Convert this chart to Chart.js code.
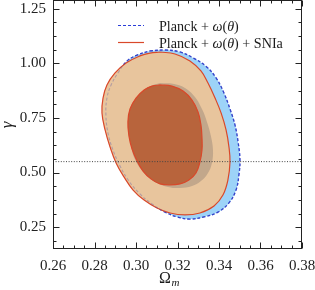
<!DOCTYPE html>
<html>
<head>
<meta charset="utf-8">
<script src="https://cdn.jsdelivr.net/npm/chart.js@4/dist/chart.umd.min.js"></script>
<style>html,body{margin:0;padding:0;background:#fff}canvas{display:block}</style>
</head>
<body>
<canvas id="c" width="315" height="290"></canvas>
<script>
// ---- data ----
const seriesLabels = ['Planck + ω(θ)', 'Planck + ω(θ) + SNIa'];

// Planck + ω(θ): 2σ contour
const blue2X = [0.3067,0.3140,0.3212,0.3275,0.3337,0.3386,0.3424,0.3453,0.3477,0.3492,0.3501,0.3496,0.3482,0.3448,0.3395,0.3328,0.3260,0.3198,0.3140,0.3077,0.3019,0.2966,0.2923,0.2889,0.2865,0.2855,0.2860,0.2880,0.2913,0.2957,0.3005];
const blue2Y = [1.057,1.061,1.052,1.025,0.987,0.933,0.864,0.791,0.718,0.640,0.558,0.489,0.420,0.361,0.319,0.297,0.287,0.297,0.319,0.356,0.402,0.461,0.530,0.603,0.681,0.764,0.841,0.901,0.956,1.011,1.038];
// Planck + ω(θ): 1σ contour
const blue1X = [0.3116,0.3178,0.3236,0.3284,0.3318,0.3342,0.3361,0.3371,0.3366,0.3347,0.3313,0.3270,0.3212,0.3154,0.3101,0.3058,0.3019,0.2990,0.2976,0.2971,0.2971,0.2986,0.3014,0.3053,0.3082];
const blue1Y = [0.910,0.906,0.887,0.846,0.791,0.732,0.667,0.603,0.544,0.498,0.461,0.438,0.429,0.434,0.452,0.480,0.521,0.571,0.626,0.686,0.745,0.800,0.851,0.887,0.901];
// Planck + ω(θ) + SNIa: 2σ contour
const red2X = [0.3116,0.3188,0.3260,0.3313,0.3347,0.3381,0.3410,0.3434,0.3448,0.3453,0.3443,0.3419,0.3376,0.3308,0.3236,0.3164,0.3101,0.3039,0.2986,0.2942,0.2904,0.2875,0.2851,0.2836,0.2841,0.2860,0.2899,0.2952,0.3019,0.3067];
const red2Y = [1.052,1.043,1.011,0.965,0.910,0.841,0.773,0.695,0.617,0.548,0.466,0.397,0.347,0.315,0.306,0.315,0.338,0.374,0.420,0.480,0.544,0.617,0.695,0.773,0.841,0.901,0.956,1.002,1.034,1.047];
// Planck + ω(θ) + SNIa: 1σ contour
const red1X = [0.3116,0.3173,0.3227,0.3270,0.3299,0.3313,0.3318,0.3318,0.3308,0.3289,0.3255,0.3212,0.3164,0.3116,0.3072,0.3034,0.3005,0.2981,0.2966,0.2961,0.2971,0.3000,0.3039,0.3077];
const red1Y = [0.901,0.896,0.873,0.832,0.777,0.718,0.658,0.603,0.548,0.498,0.466,0.448,0.443,0.448,0.471,0.507,0.553,0.608,0.667,0.732,0.791,0.841,0.878,0.896];

// reference line gamma = 0.55
const refGamma = 0.55;

// axes
const xTicks = [0.26,0.28,0.30,0.32,0.34,0.36,0.38];
const yTicks = [0.25,0.50,0.75,1.00,1.25];
const xRange = [0.26,0.38];
const yRange = [0.15,1.29];
const xMinorPerMajor = 4, yMinorPerMajor = 4;

// ---- helpers ----
function loop(xs, ys){
  const pts = xs.map((x,i)=>({x:x, y:ys[i]}));
  pts.push({x:xs[0], y:ys[0]});
  return pts;
}
const SERIF = '"Liberation Serif", "DejaVu Serif", serif';

const decorPlugin = {
  id:'decor',
  afterDatasetsDraw(chart){
    const ctx = chart.ctx, a = chart.chartArea;
    const sx = chart.scales.x, sy = chart.scales.y;
    ctx.save();
    ctx.strokeStyle = '#222';
    ctx.lineWidth = 1;
    ctx.strokeRect(Math.round(a.left)+0.5, Math.round(a.top)+0.5, Math.round(a.right-a.left)-1, Math.round(a.bottom-a.top)-1);
    const L = Math.round(a.left)+0.5, R = Math.round(a.right)-0.5, T = Math.round(a.top)+0.5, B = Math.round(a.bottom)-0.5;
    ctx.beginPath();
    const xStep = xTicks[1]-xTicks[0];
    for (let i=0;i<xTicks.length;i++){
      for (let k=0;k<xMinorPerMajor;k++){
        const v = xTicks[i] + k*xStep/xMinorPerMajor;
        if (v > xRange[1]+1e-9) break;
        const p = Math.round(sx.getPixelForValue(v))+0.5;
        const len = k===0 ? 6 : 3;
        ctx.moveTo(p,B); ctx.lineTo(p,B-len);
        ctx.moveTo(p,T); ctx.lineTo(p,T+len);
      }
    }
    const yStep = yTicks[1]-yTicks[0];
    for (let i=-1;i<yTicks.length;i++){
      const base = i<0 ? yTicks[0]-yStep : yTicks[i];
      for (let k=0;k<yMinorPerMajor;k++){
        const v = base + k*yStep/yMinorPerMajor;
        if (v < yRange[0]-1e-9 || v > yRange[1]+1e-9) continue;
        const p = Math.round(sy.getPixelForValue(v))+0.5;
        const len = (k===0 && i>=0) ? 6 : 3;
        ctx.moveTo(L,p); ctx.lineTo(L+len,p);
        ctx.moveTo(R,p); ctx.lineTo(R-len,p);
      }
    }
    ctx.stroke();
    ctx.restore();
  },
  afterDraw(chart){
    const ctx = chart.ctx;
    ctx.save();
    ctx.fillStyle = '#1a1a1a';
    ctx.textBaseline = 'alphabetic';
    function parts(withSN){
      const p = [['Planck + ',''],['ω','italic '],['(',''],['θ','italic '],[')','']];
      if (withSN) p.push([' + SNIa','']);
      return p;
    }
    function width(ps, size){
      let w = 0;
      for (const [t,st] of ps){ ctx.font = st + size + 'px ' + SERIF; w += ctx.measureText(t).width; }
      return w;
    }
    // fit the longer legend entry to the width it has in the reference (~124 px)
    const size = Math.min(15, 13 * 124 / width(parts(true), 13));
    function drawLabel(x, y, withSN){
      let cx = x;
      for (const [t,st] of parts(withSN)){
        ctx.font = st + size + 'px ' + SERIF;
        ctx.fillText(t, cx, y);
        cx += ctx.measureText(t).width;
      }
    }
    ctx.lineWidth = 1.2;
    ctx.strokeStyle = '#2a3ed8';
    ctx.setLineDash([3,2]);
    ctx.beginPath(); ctx.moveTo(118,25.5); ctx.lineTo(144,25.5); ctx.stroke();
    ctx.setLineDash([]);
    ctx.strokeStyle = '#d9482a';
    ctx.beginPath(); ctx.moveTo(118,42.5); ctx.lineTo(144,42.5); ctx.stroke();
    drawLabel(159, 30.5, false);
    drawLabel(159, 47.5, true);
    ctx.font = '16px ' + SERIF;
    ctx.fillText('Ω', 159, 283);
    const w = ctx.measureText('Ω').width;
    ctx.font = 'italic 11px ' + SERIF;
    ctx.fillText('m', 159 + w + 0.5, 286);
    ctx.translate(12, 125);
    ctx.rotate(-Math.PI/2);
    ctx.font = 'italic 17px ' + SERIF;
    ctx.textAlign = 'center';
    ctx.fillText('γ', 0, 0);
    ctx.restore();
  }
};

const ds = (label, pts, opts) => Object.assign({
  label, data: pts, showLine: true, pointRadius: 0, pointHoverRadius: 0, tension: 0.4
}, opts);

new Chart(document.getElementById('c'), {
  type: 'scatter',
  data: {
    datasets: [
      ds('gamma', [{x:xRange[0], y:refGamma},{x:xRange[1], y:refGamma}], {
        borderColor:'#444', borderWidth:1, borderDash:[1,1.6], fill:false, tension:0, order:0}),
      ds(seriesLabels[0]+' outline', loop(blue2X, blue2Y), {
        borderColor:'rgba(80,80,170,0.35)', borderWidth:1.1, borderDash:[3,2], fill:false, order:1}),
      ds(seriesLabels[1]+' 1σ', loop(red1X, red1Y), {
        borderColor:'#d9482a', borderWidth:1.2, backgroundColor:'#b8643c', fill:'shape', order:2}),
      ds(seriesLabels[0]+' 1σ', loop(blue1X, blue1Y), {
        borderColor:'rgba(0,0,0,0)', borderWidth:0, backgroundColor:'#c2a78b', fill:'shape', order:3}),
      ds(seriesLabels[1]+' 2σ', loop(red2X, red2Y), {
        borderColor:'#d9482a', borderWidth:1.2, backgroundColor:'#e8c59d', fill:'shape', order:4}),
      ds(seriesLabels[0]+' 2σ', loop(blue2X, blue2Y), {
        borderColor:'#2a3ed8', borderWidth:1.3, borderDash:[3,2], backgroundColor:'#9dd3f8', fill:'shape', order:5})
    ]
  },
  options: {
    responsive: false,
    animation: false,
    events: [],
    layout: { padding: { left:0, right:13, top:0, bottom:0 } },
    plugins: { legend:{display:false}, tooltip:{enabled:false}, title:{display:false} },
    scales: {
      x: {
        type:'linear', min:xRange[0], max:xRange[1],
        afterBuildTicks: s => { s.ticks = xTicks.map(v=>({value:v})); },
        afterFit: s => { s.height = 41; s.paddingLeft = 0; s.paddingRight = 0; },
        grid:{display:false, drawTicks:false}, border:{display:false},
        ticks:{padding:8, autoSkip:false, maxRotation:0, color:'#222',
          font:{family:SERIF, size:15}, callback: v => Number(v).toFixed(2)}
      },
      y: {
        type:'linear', min:yRange[0], max:yRange[1],
        afterBuildTicks: s => { s.ticks = yTicks.map(v=>({value:v})); },
        afterFit: s => { s.width = 53; s.paddingTop = 0; s.paddingBottom = 0; },
        grid:{display:false, drawTicks:false}, border:{display:false},
        ticks:{padding:7, autoSkip:false, color:'#222',
          font:{family:SERIF, size:15}, callback: v => Number(v).toFixed(2)}
      }
    }
  },
  plugins: [decorPlugin]
});
</script>
</body>
</html>
